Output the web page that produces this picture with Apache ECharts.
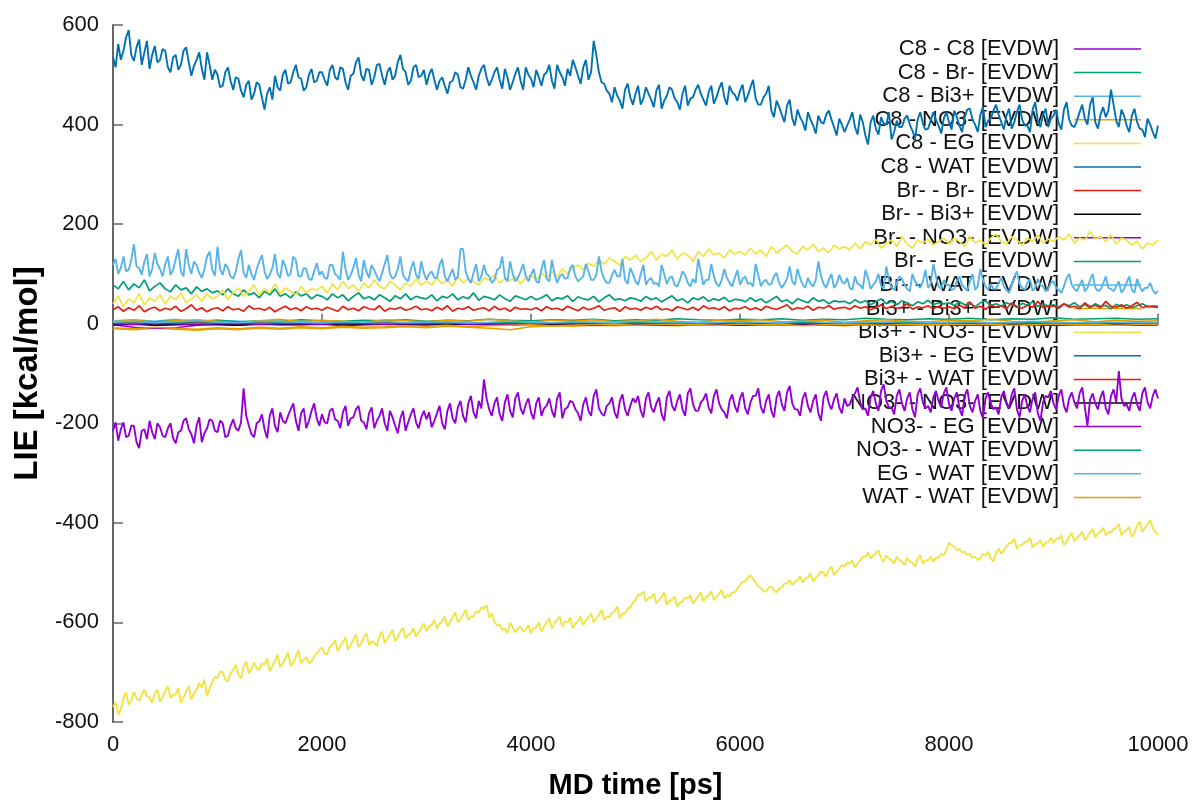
<!DOCTYPE html>
<html>
<head>
<meta charset="utf-8">
<title>LIE EVDW</title>
<script src="https://cdn.jsdelivr.net/npm/echarts@6/dist/echarts.min.js"></script>
<style>
  html, body { margin: 0; padding: 0; background: #fff; }
  #chart { width: 1199px; height: 805px; }
</style>
</head>
<body>
<div id="chart"></div>
<script>
// Sampling intervals (ps) of the stored energy traces
const STEP_DENSE = 25;
const STEP_FINE = 50;
const STEP_COARSE = 200;

// Axis ticks
const xTicks = [0, 2000, 4000, 6000, 8000, 10000];
const yTicks = [-800, -600, -400, -200, 0, 200, 400, 600];

// Series names in legend order
const seriesNames = [
  'C8 - C8 [EVDW]', 'C8 - Br- [EVDW]', 'C8 - Bi3+ [EVDW]', 'C8 - NO3- [EVDW]',
  'C8 - EG [EVDW]', 'C8 - WAT [EVDW]', 'Br- - Br- [EVDW]', 'Br- - Bi3+ [EVDW]',
  'Br- - NO3- [EVDW]', 'Br- - EG [EVDW]', 'Br- - WAT [EVDW]', 'Bi3+ - Bi3+ [EVDW]',
  'Bi3+ - NO3- [EVDW]', 'Bi3+ - EG [EVDW]', 'Bi3+ - WAT [EVDW]', 'NO3- - NO3- [EVDW]',
  'NO3- - EG [EVDW]', 'NO3- - WAT [EVDW]', 'EG - WAT [EVDW]', 'WAT - WAT [EVDW]'
];

// ---- energy traces (kcal/mol), every STEP_DENSE ps ----
const c8_c8 = [
  -215,-198,-235,-212,-198,-228,-225,-205,-205,-238,-250,-215,-212,-232,-195,-218,-232,-200,-208,-225,-228,-210,-200,-230,-240,-218,-215,-195,-190,-212,-222,-240,-205,-188,-238,-220,-210,-192,-195,-215,
  -218,-195,-200,-228,-225,-205,-192,-210,-215,-198,-130,-185,-205,-222,-228,-200,-196,-182,-212,-230,-185,-170,-205,-218,-178,-195,-200,-185,-172,-160,-195,-215,-180,-170,-210,-195,-175,-160,-190,-205,
  -182,-198,-200,-175,-170,-192,-195,-210,-178,-165,-205,-190,-188,-172,-165,-195,-198,-212,-180,-168,-210,-195,-185,-170,-200,-215,-175,-188,-205,-220,-190,-175,-215,-198,-182,-170,-198,-210,-188,-175,
  -192,-178,-208,-195,-180,-165,-200,-212,-175,-160,-190,-200,-168,-155,-185,-198,-160,-145,-178,-190,-155,-170,-112,-150,-172,-185,-160,-148,-182,-195,-158,-142,-175,-188,-150,-138,-170,-182,-162,-150,
  -178,-192,-160,-148,-185,-170,-165,-150,-175,-188,-150,-138,-190,-172,-168,-155,-158,-172,-180,-195,-162,-148,-175,-185,-145,-132,-170,-180,-185,-165,-160,-148,-178,-190,-155,-142,-172,-185,-165,-150,
  -158,-145,-175,-188,-150,-138,-168,-178,-160,-148,-182,-195,-148,-135,-165,-175,-155,-142,-172,-185,-140,-130,-162,-175,-175,-158,-152,-140,-168,-180,-145,-132,-160,-172,-178,-190,-155,-142,-165,-178,
  -150,-138,-170,-182,-158,-145,-145,-130,-168,-180,-155,-142,-175,-188,-148,-135,-162,-175,-138,-125,-160,-172,-172,-185,-150,-138,-165,-178,-155,-142,-180,-195,-148,-135,-160,-172,-152,-140,-168,-180,
  -150,-165,-162,-148,-140,-128,-158,-172,-170,-185,-148,-135,-160,-175,-135,-122,-155,-168,-168,-182,-145,-132,-160,-175,-150,-138,-172,-188,-142,-130,-158,-170,-165,-178,-148,-135,-155,-168,-140,-128,
  -162,-175,-150,-138,-170,-185,-145,-132,-165,-178,-155,-142,-175,-190,-150,-138,-160,-172,-168,-182,-148,-135,-158,-170,-142,-130,-172,-188,-155,-142,-165,-178,-150,-138,-180,-195,-158,-145,-148,-135,
  -160,-172,-145,-132,-165,-178,-150,-138,-158,-170,-140,-128,-168,-205,-152,-140,-160,-172,-148,-135,-170,-182,-145,-132,-158,-95,-150,-165,-162,-175,-150,-138,-162,-175,-140,-128,-158,-170,-145,-132,
  -150
];

const c8_wat = [
  535,515,562,530,548,575,590,540,528,555,571,520,545,568,512,540,558,525,530,552,548,515,505,535,540,510,520,548,555,525,498,518,530,545,512,490,545,520,490,510,
  500,475,478,505,515,488,470,495,492,468,455,480,488,450,462,485,480,455,430,462,475,450,498,475,468,500,510,482,485,505,520,495,492,468,475,500,512,485,488,505,
  505,490,478,510,520,495,490,515,512,485,470,498,502,525,535,500,488,512,510,480,495,520,522,498,480,505,515,490,498,525,540,512,505,480,488,515,520,495,498,510,
  480,500,512,490,470,488,495,478,462,485,488,505,500,475,472,490,515,498,485,470,498,512,520,495,478,490,505,515,490,472,512,495,470,485,502,515,488,470,515,500,
  492,475,510,495,478,500,505,520,488,472,520,505,495,478,512,498,530,515,498,482,515,530,490,505,568,540,505,485,482,468,462,445,475,458,448,432,470,482,455,440,
  462,478,440,452,475,462,450,435,468,480,432,448,458,475,470,452,445,430,462,478,438,452,455,470,480,462,450,438,465,478,442,455,472,485,455,440,478,465,460,448,
  468,480,445,458,475,490,452,440,440,455,462,478,428,415,448,435,420,405,438,450,412,398,430,415,405,388,425,410,398,382,418,405,402,420,428,410,395,378,412,400,
  385,398,410,425,395,380,420,405,378,360,405,418,392,380,415,402,400,425,370,385,408,395,395,412,418,400,388,372,410,425,402,390,392,408,425,410,398,382,412,425,
  405,390,428,415,398,385,415,430,432,410,400,385,420,435,395,408,412,428,440,420,405,390,418,432,392,405,425,440,410,398,398,385,430,445,408,395,420,432,395,412,
  418,430,402,390,430,445,410,398,395,408,425,440,412,400,440,455,405,392,420,435,415,428,470,440,408,395,430,418,398,385,418,432,405,392,390,375,412,400,385,372,
  398
];

const br_wat = [
  118,130,100,112,135,105,108,128,160,115,112,98,125,140,95,110,142,120,110,95,120,135,98,108,130,150,105,95,150,118,100,125,118,102,92,110,135,145,108,96,
  155,110,98,120,112,95,90,105,130,148,102,92,118,100,88,110,125,138,105,90,98,112,140,100,92,128,115,96,100,135,128,95,95,112,110,90,88,105,122,98,
  105,92,90,118,118,100,95,88,145,110,88,98,112,132,98,85,128,105,92,118,108,95,85,102,120,138,100,90,95,110,135,98,90,85,110,125,98,90,125,102,
  88,100,105,92,92,118,130,95,85,98,110,88,95,150,150,105,90,82,102,120,85,95,118,100,95,82,88,108,112,135,92,85,125,100,85,92,105,120,95,85,
  98,110,85,82,110,128,90,85,128,100,82,95,100,90,92,112,118,95,85,90,95,120,105,88,88,98,135,105,90,82,82,98,108,95,95,130,88,80,112,100,
  85,78,100,118,78,88,92,80,82,75,118,100,80,92,95,78,75,88,105,98,82,75,90,82,130,105,78,88,88,120,95,80,75,88,110,92,82,75,92,108,
  78,90,95,80,82,75,120,98,75,85,88,78,80,95,102,82,72,80,90,115,85,78,110,92,78,72,92,80,75,88,125,96,80,72,88,100,72,80,98,85,
  80,92,72,68,95,80,78,70,108,92,70,78,85,100,76,70,115,88,72,68,82,95,90,78,70,65,100,85,78,72,85,108,72,80,120,95,75,70,88,78,
  78,68,70,85,95,78,72,66,85,100,68,75,110,88,75,68,80,70,70,82,92,75,68,62,78,95,105,80,72,68,82,90,66,72,90,78,75,65,70,82,
  85,72,68,62,75,92,100,78,70,65,78,88,65,72,88,100,72,66,68,80,95,72,70,65,75,85,62,70,82,95,68,62,90,75,65,72,72,82,68,60,
  66
];

const bi_no3 = [
  -770,-760,-785,-775,-752,-740,-765,-758,-740,-752,-758,-745,-735,-748,-750,-762,-742,-735,-760,-750,-738,-728,-752,-745,-745,-732,-762,-750,-740,-728,-755,-742,-735,-722,-730,-715,-748,-732,-720,-710,
  -712,-698,-700,-715,-718,-702,-695,-685,-705,-712,-690,-678,-702,-695,-680,-692,-695,-682,-685,-672,-698,-688,-678,-665,-690,-682,-672,-660,-688,-680,-668,-655,-682,-675,-670,-682,-678,-668,-662,-655,
  -650,-662,-665,-648,-645,-635,-658,-648,-640,-630,-655,-645,-635,-625,-650,-642,-630,-622,-645,-638,-640,-648,-628,-618,-642,-632,-625,-615,-638,-630,-618,-610,-632,-625,-622,-612,-628,-620,-612,-602,
  -618,-608,-605,-595,-612,-602,-598,-588,-608,-598,-590,-580,-600,-592,-585,-575,-595,-588,-588,-578,-580,-570,-572,-565,-590,-582,-598,-606,-605,-615,-612,-622,-600,-610,-620,-612,-608,-618,-615,-605,
  -622,-612,-610,-600,-618,-608,-600,-592,-612,-602,-595,-588,-608,-598,-600,-590,-612,-602,-598,-588,-605,-596,-590,-582,-600,-592,-585,-575,-595,-588,-590,-580,-578,-568,-592,-582,-582,-572,-570,-560,
  -555,-545,-545,-538,-558,-550,-550,-542,-562,-555,-548,-540,-565,-556,-555,-548,-568,-560,-558,-550,-552,-545,-562,-555,-548,-540,-558,-550,-545,-538,-555,-548,-542,-535,-552,-545,-548,-540,-540,-532,
  -525,-518,-518,-510,-505,-512,-520,-528,-530,-538,-538,-530,-528,-536,-540,-532,-530,-522,-522,-515,-525,-518,-515,-508,-520,-512,-510,-502,-518,-510,-505,-498,-500,-508,-495,-488,-505,-498,-492,-485,
  -488,-480,-482,-475,-490,-482,-475,-468,-468,-460,-472,-465,-462,-455,-470,-478,-465,-472,-475,-482,-468,-475,-478,-485,-470,-478,-480,-488,-472,-465,-482,-475,-475,-468,-478,-470,-470,-462,-465,-455,
  -440,-445,-448,-455,-452,-460,-458,-465,-462,-470,-468,-475,-470,-462,-465,-458,-472,-478,-460,-452,-462,-455,-448,-440,-440,-432,-452,-445,-445,-438,-438,-430,-450,-442,-442,-435,-448,-440,-438,-430,
  -440,-432,-432,-425,-445,-438,-428,-420,-438,-430,-425,-418,-435,-428,-420,-412,-430,-422,-418,-410,-425,-418,-420,-412,-410,-402,-425,-418,-415,-408,-428,-420,-405,-398,-418,-410,-402,-395,-410,-418,
  -425
];

// ---- energy traces (kcal/mol), every STEP_FINE ps ----
const c8_br = [
  78,70,85,68,80,72,88,66,75,82,70,64,78,68,72,60,74,65,70,62,
  66,58,70,60,55,68,58,62,52,65,58,70,55,60,52,64,56,60,50,58,
  55,48,60,52,58,46,55,62,50,54,48,58,52,45,56,50,60,48,55,52,
  50,58,46,55,52,60,48,54,50,62,47,55,52,48,58,50,45,56,52,48,
  55,48,52,58,46,52,50,56,45,54,50,48,55,44,52,58,48,50,46,52,
  50,45,55,48,52,44,50,56,46,50,42,52,48,54,45,50,47,53,44,49,
  48,44,52,45,50,42,48,55,44,48,40,50,46,42,52,45,48,40,46,44,
  45,40,48,42,46,38,44,50,40,45,38,46,42,36,44,40,47,38,42,40,
  42,36,44,38,40,34,42,46,36,40,35,42,38,33,41,37,44,35,39,36,
  38,33,40,36,42,34,38,32,40,35,37,30,39,34,38,32,36,40,34,36,
  35
];

const c8_eg = [
  40,55,35,50,42,60,38,52,45,58,40,55,48,62,42,50,58,45,60,50,
  55,68,48,62,72,55,65,78,58,70,62,80,60,72,65,58,75,62,70,68,
  75,62,80,68,85,70,78,65,82,72,88,75,70,85,78,68,82,75,90,78,
  85,78,92,80,88,75,95,82,90,85,78,92,88,98,82,90,86,95,80,92,
  98,88,102,92,105,95,110,100,112,118,108,122,115,128,120,132,125,118,135,128,
  138,125,132,145,128,140,135,148,130,142,138,125,145,135,150,138,142,132,148,140,
  145,138,152,140,148,135,155,142,150,158,145,140,155,148,160,145,152,142,158,150,
  155,148,162,150,165,158,170,152,162,168,155,175,160,152,168,162,170,158,165,172,
  160,172,165,155,175,162,168,158,172,180,165,160,175,168,158,172,165,178,162,170,
  165,175,168,180,162,172,168,185,170,175,165,178,160,172,168,158,165,150,162,158,
  168
];

const br_br = [
  28,34,25,32,27,36,24,30,33,26,31,28,35,25,30,38,27,32,24,30,
  32,26,34,28,30,25,36,29,31,27,33,24,30,35,28,32,26,34,29,31,
  27,33,29,25,35,28,31,26,34,30,28,36,25,31,29,33,27,30,35,28,
  30,26,33,28,36,25,31,29,34,27,30,32,26,35,28,31,25,33,29,30,
  28,32,26,34,29,31,27,35,30,26,33,28,31,36,27,30,32,25,34,29,
  31,27,33,29,35,28,30,26,34,31,28,33,27,36,30,32,28,34,26,31,
  30,34,28,32,27,35,31,29,33,38,28,32,30,35,27,33,31,36,29,32,
  33,29,36,31,34,28,32,38,30,35,31,33,40,29,34,32,36,30,35,31,
  34,30,37,32,44,31,35,29,38,33,36,30,42,34,31,37,33,45,32,35,
  36,31,40,33,35,30,42,34,37,32,45,35,33,38,31,36,43,32,35,34,
  33
];

// ---- small contributions near zero, every STEP_COARSE ps ----
const c8_bi = [6,8,5,9,4,7,5,3,4,2,3,1,2,3,1,2,0,2,1,3,1,2,0,1,2,1,0,2,1,1,0,1,2,0,1,0,1,2,0,1,1,0,2,1,0,1,0,1,2,0,1];
const c8_no3 = [-10,-12,-9,-11,-13,-10,-12,-9,-11,-8,-10,-7,-9,-8,-6,-8,-5,-7,-9,-12,-6,-4,-5,-3,-4,-2,-3,-4,-2,-3,-1,-2,-3,-1,-2,-4,-2,-1,-3,-2,-1,-2,-3,-1,-2,-1,-2,-3,-1,-2,-1];
const br_bi = [-1,0,-2,-1,0,-1,-2,0,-1,-1,0,-2,-1,0,-1,-2,-1,0,-1,-2,0,-1,-1,-2,0,-1,-2,-1,0,-1,-2,-1,0,-2,-1,-1,0,-2,-1,0,-1,-2,-1,0,-1,-2,-1,0,-1,-2,-1];
const br_no3 = [-2,-7,-9,-8,-3,-1,0,-1,0,1,0,-1,0,0,1,0,-1,0,1,0,0,-1,0,1,0,0,-1,0,0,1,0,-1,0,0,1,0,0,-1,0,1,0,0,-1,0,0,1,0,-1,0,0,0];
const br_eg = [3,5,4,6,5,7,4,6,5,8,6,5,7,6,8,5,7,6,9,7,6,8,7,9,6,8,7,10,8,7,9,8,10,7,9,8,11,9,8,10,9,11,8,10,9,12,9,10,11,9,10];
const bi_bi = [4,7,3,6,8,5,2,6,9,4,7,5,3,8,6,4,7,5,9,6,3,7,5,8,4,6,9,5,3,7,6,8,4,5,7,3,6,8,5,4,7,6,9,5,3,6,8,4,7,5,6];
const bi_eg = [0,1,-1,0,1,0,-1,1,0,0,1,-1,0,1,0,0,-1,1,0,1,0,-1,0,1,0,0,1,-1,0,0,1,0,-1,0,1,0,0,-1,1,0,0,1,0,-1,0,1,0,0,-1,1,0];
const bi_wat = [1,2,0,1,3,1,0,2,1,1,2,0,1,2,1,3,1,0,2,1,1,2,0,1,2,1,0,3,1,2,1,0,2,1,1,2,0,1,3,1,2,1,0,2,1,1,2,0,1,2,1];
const no3_no3 = [-2,-1,-3,-2,-1,-2,-3,-1,-2,-2,-1,-3,-2,-1,-2,-3,-2,-1,-2,-3,-1,-2,-2,-3,-1,-2,-3,-2,-1,-2,-3,-2,-1,-3,-2,-2,-1,-3,-2,-1,-2,-3,-2,-1,-2,-3,-2,-1,-2,-3,-2];
const no3_eg = [0,-1,1,0,-1,0,1,-1,0,0,-1,1,0,-1,0,0,1,-1,0,-1,0,1,0,-1,0,0,-1,1,0,0,-1,0,1,0,-1,0,0,1,-1,0,0,-1,0,1,0,-1,0,0,1,-1,0];
const no3_wat = [2,1,3,2,1,2,3,1,2,2,1,3,2,1,2,3,2,1,2,3,1,2,2,3,1,2,3,2,1,2,3,2,1,3,2,2,1,3,2,1,2,3,2,1,2,3,2,1,2,3,2];
const eg_wat = [3,5,2,4,6,3,2,5,4,3,2,4,3,5,2,3,4,2,3,5,3,2,4,3,2,5,3,4,2,3,4,3,2,5,3,2,4,3,5,2,3,4,2,3,5,3,2,4,3,2,3];
const wat_wat = [-8,-10,-7,-9,-11,-8,-10,-7,-9,-6,-8,-5,-7,-6,-4,-5,-3,-6,-4,-3,-2,-4,-3,-2,-1,-3,-2,-1,-2,-3,-1,-2,-1,-4,-2,-1,-2,-3,-1,-2,-1,-2,-1,-3,-2,-1,-2,-1,-3,-2,-1];

// Series in legend order: [values, sample step, colour]
const PURPLE = '#9400d3', GREEN = '#009e73', SKY = '#56b4e9', ORANGE = '#e69f00',
      YELLOW = '#f0e442', BLUE = '#0072b2', RED = '#e51e10', BLACK = '#000000';
const traces = [
  [c8_c8, STEP_DENSE, PURPLE],
  [c8_br, STEP_FINE, GREEN],
  [c8_bi, STEP_COARSE, SKY],
  [c8_no3, STEP_COARSE, ORANGE],
  [c8_eg, STEP_FINE, YELLOW],
  [c8_wat, STEP_DENSE, BLUE],
  [br_br, STEP_FINE, RED],
  [br_bi, STEP_COARSE, BLACK],
  [br_no3, STEP_COARSE, PURPLE],
  [br_eg, STEP_COARSE, GREEN],
  [br_wat, STEP_DENSE, SKY],
  [bi_bi, STEP_COARSE, ORANGE],
  [bi_no3, STEP_DENSE, YELLOW],
  [bi_eg, STEP_COARSE, BLUE],
  [bi_wat, STEP_COARSE, RED],
  [no3_no3, STEP_COARSE, BLACK],
  [no3_eg, STEP_COARSE, PURPLE],
  [no3_wat, STEP_COARSE, GREEN],
  [eg_wat, STEP_COARSE, SKY],
  [wat_wat, STEP_COARSE, ORANGE]
];

// Stroke widths per sampling interval: the densely sampled traces read as bands
const WIDTHS = {};
WIDTHS[STEP_DENSE] = 1.9;
WIDTHS[STEP_FINE] = 1.7;
WIDTHS[STEP_COARSE] = 1.4;

const FONT = '"Liberation Sans", Arial, Helvetica, sans-serif';

const series = traces.map(function (t, k) {
  const vals = t[0], step = t[1], color = t[2];
  return {
    name: seriesNames[k],
    type: 'line',
    symbol: 'none',
    showSymbol: false,
    z: k === 6 ? 4 : 2,
    color: color,
    lineStyle: { width: WIDTHS[step], color: color },
    data: vals.map(function (v, i) { return [i * step, v]; })
  };
});

const chart = echarts.init(document.getElementById('chart'), null, { renderer: 'canvas' });
chart.setOption({
  animation: false,
  backgroundColor: '#ffffff',
  grid: { left: 113, right: 41, top: 25, bottom: 78 },
  legend: {
    orient: 'vertical',
    right: 53,
    top: 33,
    z: 1,
    align: 'right',
    selectedMode: false,
    icon: 'rect',
    itemWidth: 67,
    itemHeight: 1.5,
    itemGap: 1.6,
    textStyle: { fontFamily: FONT, fontSize: 22, color: '#111', lineHeight: 22, padding: [0, 10, 0, 0] },
    data: seriesNames
  },
  xAxis: {
    type: 'value',
    min: xTicks[0],
    max: xTicks[xTicks.length - 1],
    interval: 2000,
    name: 'MD time [ps]',
    nameLocation: 'middle',
    nameGap: 49,
    nameTextStyle: { fontFamily: FONT, fontSize: 29, fontWeight: 'bold', color: '#000' },
    axisLine: { show: true, lineStyle: { color: '#666', width: 2 } },
    axisTick: { show: true, inside: true, length: 10, lineStyle: { color: '#666', width: 1.5 } },
    axisLabel: { fontFamily: FONT, fontSize: 22, color: '#111', margin: 12, formatter: function (v) { return String(v); } },
    splitLine: { show: false }
  },
  yAxis: {
    type: 'value',
    min: yTicks[0],
    max: yTicks[yTicks.length - 1],
    interval: 200,
    name: 'LIE [kcal/mol]',
    nameLocation: 'middle',
    nameGap: 68,
    nameRotate: 90,
    nameTextStyle: { fontFamily: FONT, fontSize: 33, fontWeight: 'bold', color: '#000' },
    axisLine: { show: true, lineStyle: { color: '#666', width: 2 } },
    axisTick: { show: true, inside: true, length: 10, lineStyle: { color: '#666', width: 1.5 } },
    axisLabel: { fontFamily: FONT, fontSize: 22, color: '#111', margin: 14, formatter: function (v) { return String(v); } },
    splitLine: { show: false }
  },
  series: series
});
</script>
</body>
</html>
